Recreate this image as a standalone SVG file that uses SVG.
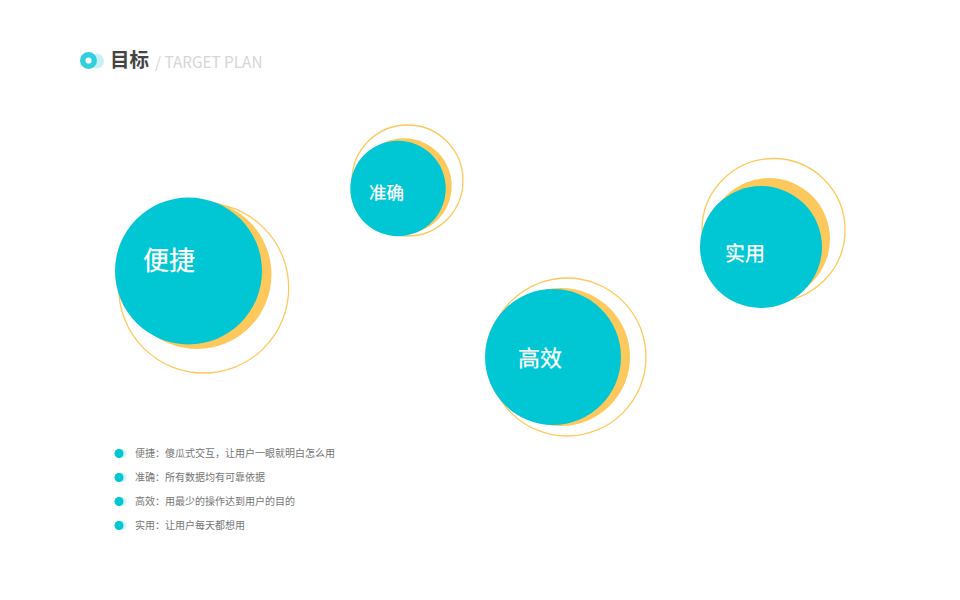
<svg xmlns="http://www.w3.org/2000/svg" width="960" height="600" viewBox="0 0 960 600">
<style>
text{font-family:"Noto Sans CJK SC","Noto Sans",sans-serif}
.t{fill:#01c6d3}.o{fill:#fec95c}.r{fill:none;stroke:#fec95c;stroke-width:1.300}
.l{fill:#fff;stroke:#fff;stroke-width:.25}
.i{font-size:10px;fill:#757575}
.d{fill:#01c6d3}.e{fill:#01c6d3;opacity:.18}
</style>
<rect width="960" height="600" fill="#fff"/>
<g id="title">
<circle cx="96.500" cy="61" r="7.500" fill="#01c6d3" opacity=".22"/>
<circle cx="88.500" cy="60.500" r="5.800" fill="#fff" stroke="#32d0dc" stroke-width="5.400"/>
<text x="110" y="67" font-size="19.500" font-weight="700" fill="#444">目标</text>
<text x="155" y="67.500" font-size="15.300" fill="#d6d6d6" font-family="Noto Sans">/ TARGET PLAN</text>
</g>
<g id="node-bianjie">
<circle class="r" cx="203.700" cy="288" r="85"/><circle class="o" cx="197" cy="274.500" r="74.500"/><circle class="t" cx="188.500" cy="271" r="73.500"/>
<text class="l" x="143" y="270" font-size="26">便捷</text>
</g>
<g id="node-zhunque">
<circle class="r" cx="407.500" cy="180.500" r="55.500"/><circle class="o" cx="404" cy="186" r="47.700"/><circle class="t" cx="398" cy="188.500" r="47.700"/>
<text class="l" x="369" y="199" font-size="17.500">准确</text>
</g>
<g id="node-gaoxiao">
<circle class="r" cx="567" cy="357" r="79"/><circle class="o" cx="561" cy="357" r="69"/><circle class="t" cx="553" cy="357" r="68"/>
<text class="l" x="518" y="365.500" font-size="22">高效</text>
</g>
<g id="node-shiyong">
<circle class="r" cx="773.500" cy="230" r="71.500"/><circle class="o" cx="769" cy="239" r="61"/><circle class="t" cx="761" cy="247" r="61"/>
<text class="l" x="725" y="261" font-size="20">实用</text>
</g>
<g id="legend">
<g id="item-1"><circle class="e" cx="122" cy="453.500" r="4.500"/><circle class="d" cx="119" cy="453.500" r="4.500"/><text class="i" x="135" y="457">便捷：傻瓜式交互，让用户一眼就明白怎么用</text></g>
<g id="item-2"><circle class="e" cx="122" cy="477.500" r="4.500"/><circle class="d" cx="119" cy="477.500" r="4.500"/><text class="i" x="135" y="481">准确：所有数据均有可靠依据</text></g>
<g id="item-3"><circle class="e" cx="122" cy="501.500" r="4.500"/><circle class="d" cx="119" cy="501.500" r="4.500"/><text class="i" x="135" y="505">高效：用最少的操作达到用户的目的</text></g>
<g id="item-4"><circle class="e" cx="122" cy="525.500" r="4.500"/><circle class="d" cx="119" cy="525.500" r="4.500"/><text class="i" x="135" y="529">实用：让用户每天都想用</text></g>
</g>
</svg>
